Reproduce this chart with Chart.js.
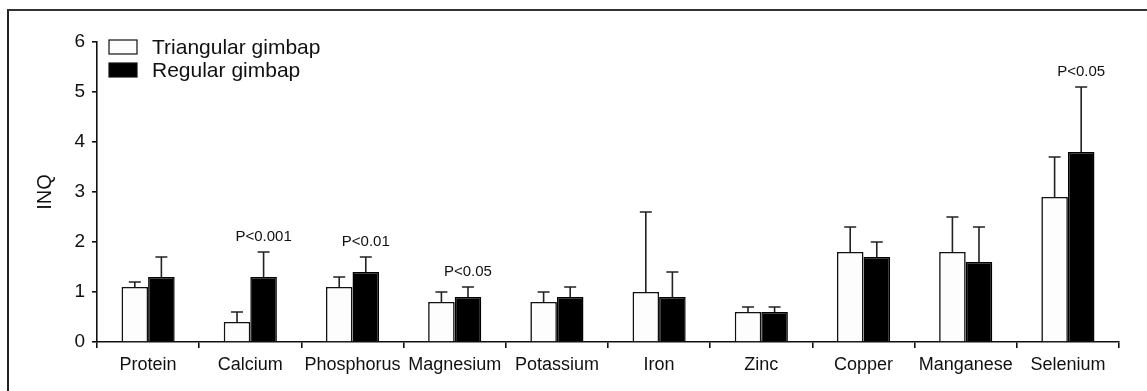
<!DOCTYPE html>
<html>
<head>
<meta charset="utf-8">
<script src="https://cdn.jsdelivr.net/npm/chart.js@4.4.1/dist/chart.umd.min.js"></script>
<style>
  html, body { margin: 0; padding: 0; background: #fff; }
  #wrap { position: relative; width: 1147px; height: 391px; overflow: hidden; }
  #frame { position: absolute; left: 7px; top: 9px; right: -5px; bottom: -5px;
           border-top: 2px solid #333; border-left: 2px solid #222; }
  canvas { position: absolute; left: 0; top: 0; }
</style>
</head>
<body>
<div id="wrap">
  <div id="frame"></div>
  <canvas id="chart" width="1147" height="391"></canvas>
</div>
<script>
// Data (INQ, mean with upper SD whisker)
const nutrients = ['Protein', 'Calcium', 'Phosphorus', 'Magnesium', 'Potassium',
                   'Iron', 'Zinc', 'Copper', 'Manganese', 'Selenium'];
const triangular = [1.1, 0.4, 1.1, 0.8, 0.8, 1.0, 0.6, 1.8, 1.8, 2.9];
const triangularTop = [1.2, 0.6, 1.3, 1.0, 1.0, 2.6, 0.7, 2.3, 2.5, 3.7];
const regular = [1.3, 1.3, 1.4, 0.9, 0.9, 0.9, 0.6, 1.7, 1.6, 3.8];
const regularTop = [1.7, 1.8, 1.7, 1.1, 1.1, 1.4, 0.7, 2.0, 2.3, 5.1];
const pLabels = ['', 'P<0.001', 'P<0.01', 'P<0.05', '', '', '', '', '', 'P<0.05'];
const yTicks = [0, 1, 2, 3, 4, 5, 6];

const FONT = "'Liberation Sans', Arial, sans-serif";
const tops = [triangularTop, regularTop];

// error whiskers, p-value notes and the legend box in the top-left corner
const extras = {
    id: 'extras',
    afterDatasetsDraw(chart) {
        const ctx = chart.ctx;
        const y = chart.scales.y;
        ctx.save();
        ctx.strokeStyle = '#222';
        ctx.lineWidth = 1.6;
        chart.data.datasets.forEach((ds, di) => {
            const meta = chart.getDatasetMeta(di);
            meta.data.forEach((bar, i) => {
                const yTop = y.getPixelForValue(tops[di][i]);
                ctx.beginPath();
                ctx.moveTo(bar.x, bar.y);
                ctx.lineTo(bar.x, yTop);
                ctx.moveTo(bar.x - 6, yTop);
                ctx.lineTo(bar.x + 6, yTop);
                ctx.stroke();
            });
        });

        // p-values sit over the regular gimbap whisker
        ctx.fillStyle = '#111';
        ctx.font = '15px ' + FONT;
        ctx.textAlign = 'center';
        ctx.textBaseline = 'alphabetic';
        const regMeta = chart.getDatasetMeta(1);
        pLabels.forEach((p, i) => {
            if (!p) return;
            const bar = regMeta.data[i];
            ctx.fillText(p, bar.x, y.getPixelForValue(regularTop[i]) - 11);
        });

        // legend
        ctx.font = '21px ' + FONT;
        ctx.textAlign = 'left';
        ctx.textBaseline = 'middle';
        chart.data.datasets.forEach((ds, di) => {
            const top = 40 + di * 23;
            ctx.fillStyle = ds.backgroundColor;
            ctx.fillRect(109, top, 28, 14);
            ctx.strokeStyle = '#111';
            ctx.lineWidth = 1.2;
            ctx.strokeRect(109, top, 28, 14);
            ctx.fillStyle = '#111';
            ctx.fillText(ds.label, 152, top + 8);
        });
        ctx.restore();
    }
};

new Chart(document.getElementById('chart'), {
    type: 'bar',
    data: {
        labels: nutrients,
        datasets: [
            {
                label: 'Triangular gimbap',
                data: triangular,
                backgroundColor: '#fdfdfd',
                borderColor: '#111',
                borderWidth: 1.6
            },
            {
                label: 'Regular gimbap',
                data: regular,
                backgroundColor: '#000',
                borderColor: '#000',
                borderWidth: 1.5
            }
        ]
    },
    options: {
        responsive: false,
        animation: false,
        events: [],
        datasets: {
            bar: { categoryPercentage: 0.52, barPercentage: 1.0 }
        },
        layout: { padding: { left: 33, top: 42, right: 28, bottom: 0 } },
        plugins: {
            legend: { display: false },
            tooltip: { enabled: false }
        },
        scales: {
            x: {
                grid: { offset: true, drawOnChartArea: false, drawTicks: true,
                        tickLength: 6, color: '#111', lineWidth: 1.6 },
                border: { display: true, color: '#111', width: 1.6 },
                ticks: { color: '#111', font: { family: FONT, size: 18 }, padding: 6,
                         maxRotation: 0, autoSkip: false },
                afterFit: s => { s.height = 49; }
            },
            y: {
                min: 0,
                max: 6,
                afterBuildTicks: s => { s.ticks = yTicks.map(v => ({ value: v })); },
                grid: { drawOnChartArea: false, drawTicks: true, tickLength: 5,
                        color: '#111', lineWidth: 1.6 },
                border: { display: true, color: '#111', width: 1.6 },
                ticks: { color: '#111', font: { family: FONT, size: 19 }, padding: 7 },
                title: { display: true, text: 'INQ', color: '#111',
                         font: { family: FONT, size: 20 }, padding: 0 },
                afterFit: s => { s.width = 64; }
            }
        }
    },
    plugins: [extras]
});
</script>
</body>
</html>
